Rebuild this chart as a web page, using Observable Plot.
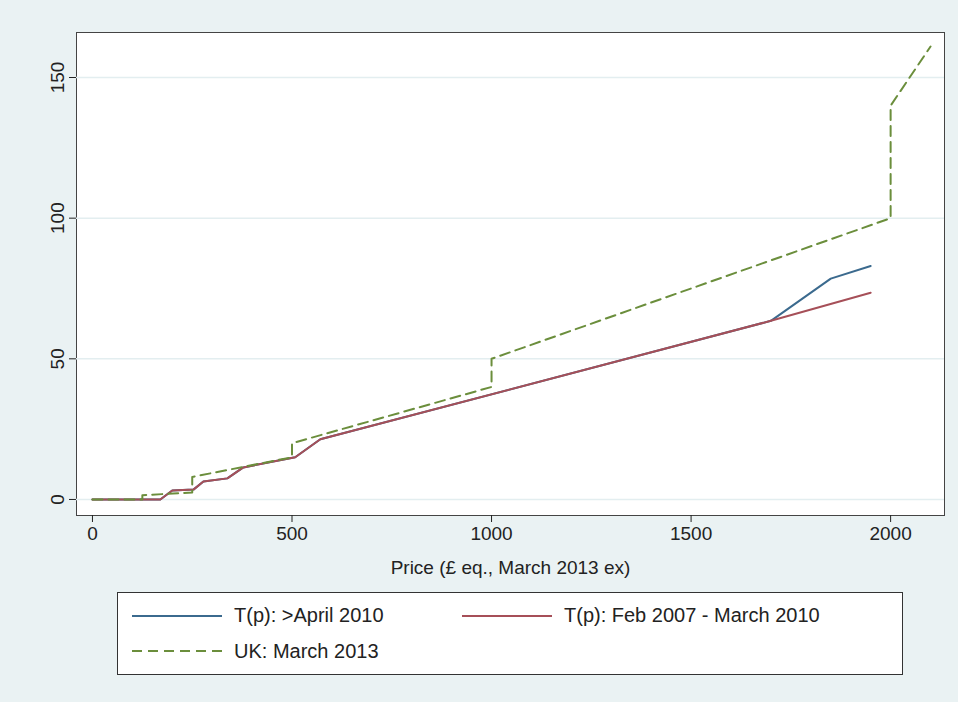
<!DOCTYPE html>
<html>
<head>
<meta charset="utf-8">
<script src="https://cdn.jsdelivr.net/npm/d3@7"></script>
<script src="https://cdn.jsdelivr.net/npm/@observablehq/plot@0.6"></script>
<style>
  body { margin: 0; background: #eaf2f3; font-family: "Liberation Sans", Arial, sans-serif; }
  #chart { width: 958px; }
  #chart > svg { display: block; }
  .legend { margin: 2px 0 0 117px; width: 786px; height: 83px; background: white;
    border: 1px solid #333; box-sizing: border-box; font-size: 20px; color: #222;
    display: grid; grid-template-columns: 330px 440px; padding: 10px 14px; row-gap: 10px; }
  .item { display: flex; align-items: center; gap: 12px; }
  .item svg { display: block; }
</style>
</head>
<body>
<div id="chart"></div>
<div class="legend" id="legend"></div>
<script>
// series
const aprilX = [0, 170, 200, 253, 278, 338, 378, 508, 571, 1700, 1850, 1950];
const aprilY = [0, 0, 3.2, 3.5, 6.4, 7.5, 11.4, 15, 21.4, 63.5, 78.5, 83];
const febX = [0, 170, 200, 253, 278, 338, 378, 508, 571, 1700, 1950];
const febY = [0, 0, 3.2, 3.5, 6.4, 7.5, 11.4, 15, 21.4, 63.5, 73.5];
const ukX = [0, 125, 125, 250, 250, 500, 500, 1000, 1000, 2000, 2000, 2100];
const ukY = [0, 0, 1.5, 2.5, 8, 15, 20, 40, 50, 100, 140, 161];
const xTicks = [0, 500, 1000, 1500, 2000];
const yTicks = [0, 50, 100, 150];

const toRows = (xs, ys) => xs.map((x, i) => ({x, y: ys[i]}));
const blue = "#3b6a8e", red = "#a64f58", green = "#6b8e3c";

const chart = Plot.plot({
  width: 958, height: 590,
  marginLeft: 76, marginRight: 14, marginTop: 32, marginBottom: 75,
  style: {background: "transparent", fontFamily: "Liberation Sans, Arial, sans-serif", fontSize: "19px", color: "#222"},
  x: {domain: [-40, 2135], ticks: xTicks},
  y: {domain: [-5.7, 166], ticks: yTicks},
  marks: [
    Plot.frame({fill: "white", stroke: "#444"}),
    Plot.gridY(yTicks, {stroke: "#e3eef0", strokeOpacity: 1, strokeWidth: 1.5}),
    Plot.line(toRows(aprilX, aprilY), {x: "x", y: "y", stroke: blue, strokeWidth: 2}),
    Plot.line(toRows(febX, febY), {x: "x", y: "y", stroke: red, strokeWidth: 2}),
    Plot.line(toRows(ukX, ukY), {x: "x", y: "y", stroke: green, strokeWidth: 2, strokeDasharray: "10,6"}),
    Plot.axisX(xTicks, {tickSize: 7, tickPadding: 4, fontSize: 19, tickFormat: d => String(d), label: "Price (£ eq., March 2013 ex)", labelAnchor: "center", labelArrow: false, labelOffset: 58}),
    Plot.axisY(yTicks, {tickSize: 7, tickPadding: 6, fontSize: 19, tickRotate: -90, tickFormat: d => String(d), label: null})
  ]
});
document.getElementById("chart").appendChild(chart);

const legendItems = [
  {label: "T(p): >April 2010", color: blue, dash: ""},
  {label: "T(p): Feb 2007 - March 2010", color: red, dash: ""},
  {label: "UK: March 2013", color: green, dash: "10,6"}
];
const legend = document.getElementById("legend");
for (const it of legendItems) {
  const d = document.createElement("div");
  d.className = "item";
  d.innerHTML = '<svg width="90" height="6"><line x1="0" y1="3" x2="90" y2="3" stroke="' + it.color +
    '" stroke-width="2"' + (it.dash ? ' stroke-dasharray="' + it.dash + '"' : '') + '/></svg><span>' + it.label + '</span>';
  legend.appendChild(d);
}
</script>
</body>
</html>
